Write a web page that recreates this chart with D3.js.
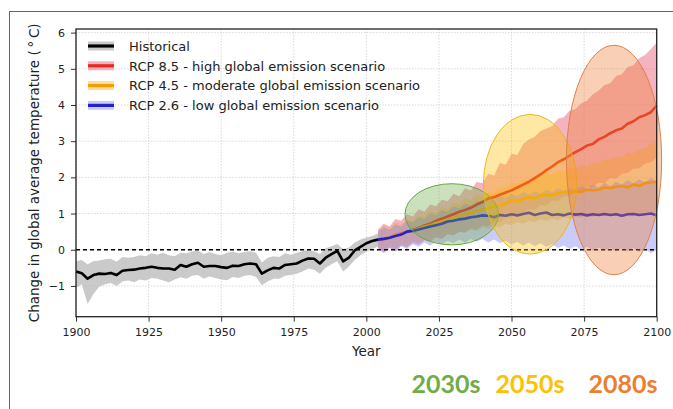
<!DOCTYPE html>
<html><head><meta charset="utf-8">
<script src="https://cdn.jsdelivr.net/npm/d3@7"></script>
<style>
html,body{margin:0;padding:0;background:#fff;}
svg{display:block;font-family:"DejaVu Sans","Liberation Sans",sans-serif;}
</style></head><body>
<svg id="chart" width="673" height="409"></svg>
<script>
// ---- Historical record (every 2 years) ----
const histYears = [1900,1902,1904,1906,1908,1910,1912,1914,1916,1918,
  1920,1922,1924,1926,1928,1930,1932,1934,1936,1938,
  1940,1942,1944,1946,1948,1950,1952,1954,1956,1958,
  1960,1962,1964,1966,1968,1970,1972,1974,1976,1978,
  1980,1982,1984,1986,1988,1990,1992,1994,1996,1998,
  2000,2002,2004];
const histMean = [-0.60,-0.65,-0.80,-0.70,-0.66,-0.67,-0.64,-0.70,-0.58,-0.56,
  -0.55,-0.52,-0.50,-0.47,-0.50,-0.52,-0.52,-0.55,-0.42,-0.47,
  -0.40,-0.36,-0.47,-0.45,-0.45,-0.48,-0.50,-0.44,-0.45,-0.40,
  -0.38,-0.40,-0.66,-0.57,-0.50,-0.52,-0.42,-0.40,-0.38,-0.30,
  -0.24,-0.25,-0.38,-0.22,-0.12,-0.03,-0.32,-0.22,-0.02,0.08,
  0.18,0.24,0.28];
const histHi = [-0.32,-0.28,-0.40,-0.32,-0.30,-0.26,-0.25,-0.33,-0.20,-0.22,
  -0.20,-0.15,-0.18,-0.10,-0.14,-0.08,-0.15,-0.18,-0.08,-0.10,
  -0.05,-0.02,-0.12,-0.06,-0.12,-0.15,-0.08,-0.05,-0.10,-0.06,
  -0.04,-0.08,-0.35,-0.22,-0.18,-0.20,-0.10,-0.14,-0.08,-0.04,
  0.00,-0.04,-0.12,0.04,0.10,0.16,0.02,0.06,0.20,0.28,
  0.34,0.38,0.45];
const histLo = [-1.05,-0.95,-1.50,-1.22,-1.02,-0.95,-0.92,-1.00,-0.88,-0.85,
  -0.90,-0.82,-0.85,-0.78,-0.80,-0.85,-0.90,-0.82,-0.76,-0.80,
  -0.72,-0.70,-0.80,-0.74,-0.78,-0.82,-0.84,-0.75,-0.78,-0.72,
  -0.70,-0.75,-0.98,-0.88,-0.80,-0.80,-0.72,-0.70,-0.66,-0.60,
  -0.52,-0.55,-0.66,-0.50,-0.40,-0.32,-0.60,-0.46,-0.28,-0.15,
  -0.05,0.02,0.08];

// ---- Scenario projections (every 2 years) ----
const projYears = [2004,2006,2008,2010,2012,2014,2016,2018,2020,2022,
  2024,2026,2028,2030,2032,2034,2036,2038,2040,2042,
  2044,2046,2048,2050,2052,2054,2056,2058,2060,2062,
  2064,2066,2068,2070,2072,2074,2076,2078,2080,2082,
  2084,2086,2088,2090,2092,2094,2096,2098,2100];

const rcp85Mean = [0.28,0.30,0.34,0.40,0.45,0.50,0.55,0.60,0.67,0.72,
  0.80,0.86,0.92,0.98,1.05,1.10,1.16,1.25,1.32,1.42,
  1.45,1.52,1.58,1.64,1.72,1.80,1.88,1.98,2.08,2.20,
  2.30,2.42,2.50,2.60,2.70,2.78,2.88,2.92,3.05,3.12,
  3.22,3.30,3.35,3.48,3.55,3.66,3.72,3.80,3.98];
const rcp85Hi = [0.55,0.72,0.64,0.85,0.80,0.98,0.92,1.12,1.06,1.25,
  1.20,1.38,1.34,1.55,1.48,1.70,1.64,1.88,1.84,2.10,
  2.05,2.40,2.35,2.65,2.62,2.92,3.05,3.12,3.28,3.35,
  3.42,3.62,3.66,3.85,3.88,4.05,4.12,4.30,4.40,4.55,
  4.60,4.80,4.85,5.05,5.10,5.30,5.38,5.55,5.72];
const rcp85Lo = [0.05,-0.08,0.06,-0.04,0.12,0.06,0.20,0.14,0.26,0.22,
  0.34,0.30,0.42,0.40,0.50,0.48,0.58,0.56,0.68,0.66,
  0.78,0.76,0.90,0.88,1.00,1.00,1.12,1.10,1.24,1.22,
  1.36,1.35,1.48,1.47,1.60,1.58,1.72,1.72,1.85,1.84,
  1.98,1.96,2.10,2.12,2.24,2.25,2.38,2.42,2.55];

const rcp45Mean = [0.28,0.30,0.35,0.40,0.44,0.50,0.54,0.58,0.64,0.68,
  0.74,0.78,0.84,0.88,0.94,0.98,1.02,1.08,1.12,1.16,
  1.18,1.22,1.28,1.36,1.34,1.40,1.45,1.42,1.50,1.52,
  1.50,1.56,1.60,1.58,1.62,1.60,1.66,1.64,1.66,1.72,
  1.70,1.74,1.76,1.72,1.80,1.76,1.84,1.86,1.88];
const rcp45Hi = [0.52,0.68,0.60,0.75,0.70,0.85,0.80,0.95,0.92,1.08,
  1.02,1.18,1.12,1.30,1.25,1.42,1.36,1.52,1.48,1.62,
  1.58,1.72,1.70,1.85,1.80,1.95,1.90,2.05,2.00,2.12,
  2.08,2.20,2.15,2.28,2.25,2.35,2.30,2.42,2.40,2.50,
  2.48,2.58,2.55,2.68,2.65,2.78,2.80,2.92,3.05];
const rcp45Lo = [0.08,0.02,0.12,0.05,0.18,0.12,0.25,0.20,0.32,0.28,
  0.38,0.34,0.45,0.42,0.50,0.48,0.56,0.52,0.62,0.58,
  0.66,0.62,0.72,0.68,0.76,0.72,0.80,0.76,0.84,0.80,
  0.86,0.82,0.90,0.85,0.92,0.88,0.95,0.90,0.96,0.92,
  0.98,0.94,1.00,0.95,1.02,0.98,1.04,1.00,1.05];

const rcp26Mean = [0.28,0.30,0.33,0.38,0.42,0.50,0.52,0.56,0.60,0.64,
  0.68,0.72,0.78,0.80,0.84,0.86,0.90,0.92,0.95,0.94,
  0.90,0.96,0.94,0.98,0.95,0.99,1.02,0.96,1.00,1.03,
  0.96,0.98,0.95,1.00,0.97,0.99,0.95,0.98,0.96,0.99,
  0.96,0.98,0.94,0.98,0.99,0.96,0.98,1.00,0.95];
const rcp26Hi = [0.50,0.62,0.55,0.70,0.65,0.80,0.75,0.90,0.85,1.00,
  0.95,1.10,1.05,1.20,1.15,1.28,1.22,1.35,1.30,1.42,
  1.36,1.48,1.42,1.55,1.48,1.60,1.52,1.62,1.55,1.66,
  1.58,1.70,1.62,1.72,1.65,1.76,1.68,1.80,1.72,1.85,
  1.76,1.88,1.80,1.92,1.84,1.95,1.86,1.98,1.90];
const rcp26Lo = [0.05,-0.08,0.05,-0.05,0.10,0.02,0.15,0.08,0.20,0.12,
  0.22,0.15,0.25,0.18,0.28,0.20,0.30,0.22,0.30,0.20,
  0.28,0.18,0.25,0.15,0.22,0.12,0.20,0.10,0.18,0.08,
  0.15,0.05,0.12,0.02,0.10,0.00,0.08,-0.02,0.06,-0.03,
  0.05,-0.05,0.04,-0.04,0.05,-0.06,0.02,-0.10,0.00];

// ---- Axis ticks ----
const xTicks = [1900,1925,1950,1975,2000,2025,2050,2075,2100];
const yTicks = [-1,0,1,2,3,4,5,6];

// ---- Highlighted periods (ellipses) ----
const periodLabels = ["2030s","2050s","2080s"];
const periodCenterYear = [2029.4, 2056.4, 2085.3];
const periodCenterTemp = [0.98, 1.81, 2.48];
const periodHalfYears = [16.1, 16.1, 16.4];
const periodHalfTemp = [0.845, 1.93, 3.17];

// ---- Legend ----
const legendLabels = ["Historical",
  "RCP 8.5 - high global emission scenario",
  "RCP 4.5 - moderate global emission scenario",
  "RCP 2.6 - low global emission scenario"];

const W = 673, H = 409;
const plot = {left: 76, right: 656.7, top: 29, bottom: 316.7};
const svg = d3.select("#chart");

const x = d3.scaleLinear().domain([1900, 2100]).range([plot.left, plot.right]);
const y = d3.scaleLinear().domain([-1.85, 6.1]).range([plot.bottom, plot.top]);

const style = {
  hist:  {line: "#000000", band: "#bdbdbd", bandOp: 0.8},
  rcp85: {line: "#e8281e", band: "#ee7f95", bandOp: 0.6},
  rcp45: {line: "#f2a000", band: "#f7b03a", bandOp: 0.45},
  rcp26: {line: "#2222cc", band: "#8c8cf0", bandOp: 0.45}
};
const periodFill = ["#70AD47", "#FFC000", "#ED7D31"];
const periodStroke = ["#6aa443", "#e9b820", "#dd8148"];

// outer frame of the figure
svg.append("rect").attr("x", 9.5).attr("y", 11.5).attr("width", W + 20).attr("height", H + 20)
  .attr("fill", "none").attr("stroke", "#666").attr("stroke-width", 1);

// grid
const grid = svg.append("g").attr("stroke", "#cfcfcf").attr("stroke-width", 0.8).attr("stroke-dasharray", "1.5,1.5");
grid.selectAll(".gx").data(xTicks).join("line")
  .attr("x1", d => x(d)).attr("x2", d => x(d)).attr("y1", plot.top).attr("y2", plot.bottom);
grid.selectAll(".gy").data(yTicks).join("line")
  .attr("x1", plot.left).attr("x2", plot.right).attr("y1", d => y(d)).attr("y2", d => y(d));

function band(years, lo, hi, s) {
  const area = d3.area().x((d, i) => x(years[i])).y0((d, i) => y(lo[i])).y1((d, i) => y(hi[i]));
  svg.append("path").attr("d", area(years)).attr("fill", s.band).attr("fill-opacity", s.bandOp);
}
function line(years, vals, s) {
  const gen = d3.line().x((d, i) => x(years[i])).y((d, i) => y(vals[i]));
  svg.append("path").attr("d", gen(years)).attr("fill", "none").attr("stroke", s.line)
    .attr("stroke-width", 2.6).attr("stroke-linejoin", "round");
}

band(histYears, histLo, histHi, style.hist);
band(projYears, rcp85Lo, rcp85Hi, style.rcp85);
band(projYears, rcp45Lo, rcp45Hi, style.rcp45);
band(projYears, rcp26Lo, rcp26Hi, style.rcp26);

// zero reference
svg.append("line").attr("x1", plot.left).attr("x2", plot.right).attr("y1", y(0)).attr("y2", y(0))
  .attr("stroke", "#000").attr("stroke-width", 1.3).attr("stroke-dasharray", "4,3");

line(projYears, rcp85Mean, style.rcp85);
line(projYears, rcp45Mean, style.rcp45);
line(projYears, rcp26Mean, style.rcp26);
line(histYears, histMean, style.hist);

// period ellipses
periodLabels.forEach((p, i) => {
  const cx = x(periodCenterYear[i]), cy = y(periodCenterTemp[i]);
  const rx = x(periodCenterYear[i] + periodHalfYears[i]) - cx;
  const ry = cy - y(periodCenterTemp[i] + periodHalfTemp[i]);
  svg.append("ellipse").attr("cx", cx).attr("cy", cy).attr("rx", rx).attr("ry", ry)
    .attr("fill", periodFill[i]).attr("fill-opacity", 0.36)
    .attr("stroke", periodStroke[i]).attr("stroke-width", 1);
});

// axes
const xAxis = svg.append("g").attr("transform", `translate(0,${plot.bottom})`)
  .call(d3.axisBottom(x).tickValues(xTicks).tickFormat(d3.format("d")).tickSize(5).tickPadding(7));
const yAxis = svg.append("g").attr("transform", `translate(${plot.left},0)`)
  .call(d3.axisLeft(y).tickValues(yTicks).tickFormat(d3.format("d")).tickSize(5).tickPadding(6));
[xAxis, yAxis].forEach(a => {
  a.select(".domain").remove();
  a.selectAll("line").attr("stroke", "#333");
  a.selectAll("text").attr("fill", "#222").style("font-size", "11px")
    .style("font-family", "'DejaVu Sans', sans-serif");
});
svg.append("rect").attr("x", plot.left).attr("y", plot.top)
  .attr("width", plot.right - plot.left).attr("height", plot.bottom - plot.top)
  .attr("fill", "none").attr("stroke", "#222").attr("stroke-width", 1.3);

svg.append("text").attr("x", (plot.left + plot.right) / 2).attr("y", 356)
  .attr("text-anchor", "middle").attr("fill", "#222").style("font-size", "13.5px").text("Year");
svg.append("text").attr("transform", `translate(39,${(plot.top + plot.bottom) / 2})  rotate(-90)`)
  .attr("text-anchor", "middle").attr("fill", "#222").style("font-size", "13.5px")
  .text("Change in global average temperature (\u2009\u00B0\u2009C)");

// legend
const legStyles = [style.hist, style.rcp85, style.rcp45, style.rcp26];
const leg = svg.append("g");
legendLabels.forEach((lab, i) => {
  const ly = 46 + i * 19.8;
  const s = legStyles[i];
  leg.append("rect").attr("x", 88).attr("y", ly - 4.5).attr("width", 26).attr("height", 9)
    .attr("fill", s.band).attr("fill-opacity", s.bandOp);
  leg.append("line").attr("x1", 88).attr("x2", 114).attr("y1", ly).attr("y2", ly)
    .attr("stroke", s.line).attr("stroke-width", 3.2);
  leg.append("text").attr("x", 129).attr("y", ly + 4.7).attr("fill", "#222")
    .style("font-size", "13px").text(lab);
});

// period captions
const captionX = [446, 530, 623];
periodLabels.forEach((p, i) => {
  svg.append("text").attr("x", captionX[i]).attr("y", 393).attr("text-anchor", "middle")
    .attr("fill", periodFill[i]).style("font-family", "Lato, 'Open Sans', sans-serif")
    .style("font-weight", 700).style("font-size", "25px").text(p);
});
</script>
</body></html>
